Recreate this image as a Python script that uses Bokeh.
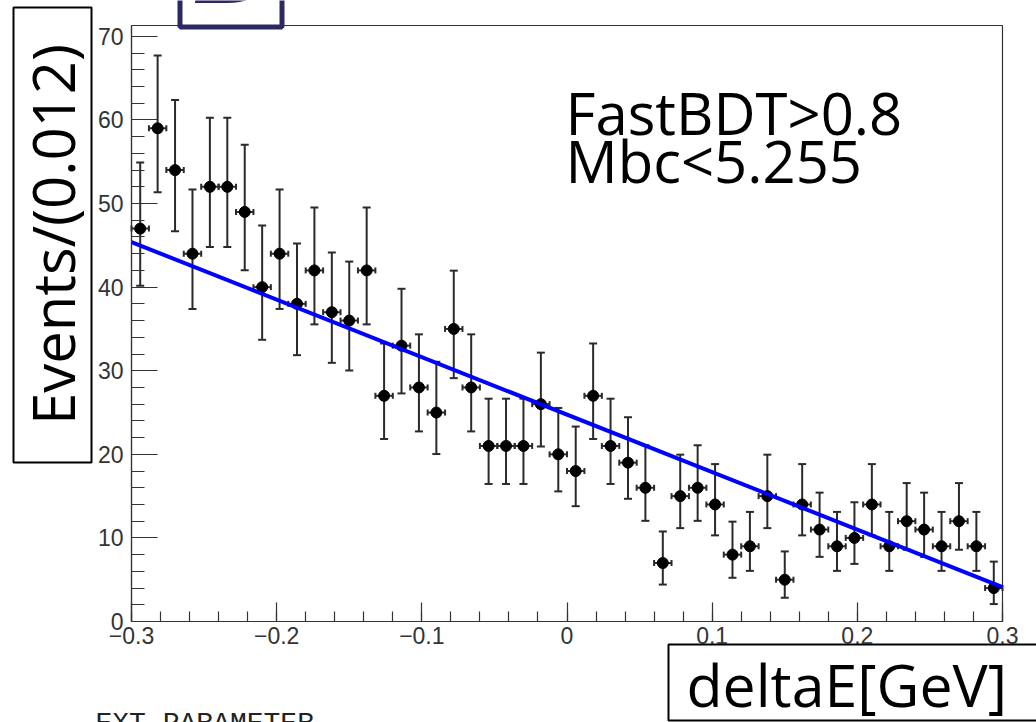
import math
from bokeh.plotting import figure
from bokeh.models import Range1d, FixedTicker, Whisker, TeeHead, Label, ColumnDataSource
from bokeh.embed import file_html
from bokeh.resources import INLINE

# ---------------- data ----------------
bin_width = 0.012
x_lo, x_hi = -0.3, 0.3
y_top = 71.3
counts = [47, 59, 54, 44, 52, 52, 49, 40, 44, 38,
          42, 37, 36, 42, 27, 33, 28, 25, 35, 28,
          21, 21, 21, 26, 20, 18, 27, 21, 19, 16,
          7, 15, 16, 14, 8, 9, 15, 5, 14, 11,
          9, 10, 14, 9, 12, 11, 9, 12, 9, 4]
fit_intercept = 24.75
fit_slope = -68.8
x_ticks = [-0.3, -0.2, -0.1, 0.0, 0.1, 0.2, 0.3]
x_tick_labels = ["\u22120.3", "\u22120.2", "\u22120.1", "0", "0.1", "0.2", "0.3"]
y_ticks = [0, 10, 20, 30, 40, 50, 60, 70]
y_tick_labels = ["0", "10", "20", "30", "40", "50", "60", "70"]
y_title = "Events/(0.012)"
x_title = "deltaE[GeV]"
cut_lines = ["FastBDT>0.8", "Mbc<5.255"]
footer = "EXT PARAMETER"

# ---------------- Poisson (Garwood) intervals, as RooFit draws them ----------------
ALPHA = 0.158655

def pois_cdf(n, lam):
    if n < 0:
        return 0.0
    s = 0.0
    for k in range(n + 1):
        s += math.exp(-lam + k * math.log(lam) - math.lgamma(k + 1)) if lam > 0 else (1.0 if k == 0 else 0.0)
    return s

def bisect(f, a, b):
    for _ in range(80):
        m = 0.5 * (a + b)
        if f(m) > 0:
            b = m
        else:
            a = m
    return 0.5 * (a + b)

def garwood(n):
    top = n + 10 * math.sqrt(n + 1) + 10
    lo = 0.0 if n == 0 else bisect(lambda l: (1 - pois_cdf(n - 1, l)) - ALPHA, 1e-9, top)
    hi = bisect(lambda l: ALPHA - pois_cdf(n, l), 1e-9, top)
    return lo, hi

centers = [x_lo + bin_width * (i + 0.5) for i in range(len(counts))]
lows, highs = zip(*[garwood(n) for n in counts])
src = ColumnDataSource(dict(
    x=centers, y=counts, lo=list(lows), hi=list(highs),
    xl=[c - bin_width / 2 for c in centers], xr=[c + bin_width / 2 for c in centers]))

# ---------------- layout geometry (pixels) ----------------
W, H = 1036, 722
FL, FR, FT, FB = 131, 1002, 25, 621     # data area inside the canvas
fw, fh = FR - FL, FB - FT

def X(px):
    return x_lo + (px - FL) * (x_hi - x_lo) / fw

def Y(py):
    return (FB - py) * y_top / fh

# The frame fills the whole canvas; the axes are pinned at the data-area edges.
p = figure(width=W, height=H, x_range=Range1d(X(0), X(W)), y_range=Range1d(Y(H), Y(0)),
           output_backend="svg", toolbar_location=None,
           min_border_left=0, min_border_right=0, min_border_top=0, min_border_bottom=0)
p.title.visible = False
p.grid.visible = False
p.background_fill_color = "white"
p.border_fill_color = "white"
p.outline_line_color = None

axcol = "#333333"
xa = p.xaxis[0]
xa.fixed_location = 0
xa.bounds = (x_lo, x_hi)
xa.ticker = FixedTicker(ticks=x_ticks, minor_ticks=[round(x_lo + 0.02 * i, 3) for i in range(31)])
xa.major_label_overrides = {t: s for t, s in zip(x_ticks, x_tick_labels)}
xa.major_tick_in = 19
xa.major_tick_out = 0
xa.minor_tick_in = 10
xa.minor_tick_out = 0
xa.major_label_standoff = 5
ya = p.yaxis[0]
ya.fixed_location = x_lo
ya.bounds = (0, y_top)
ya.ticker = FixedTicker(ticks=y_ticks, minor_ticks=list(range(0, 72, 2)))
ya.major_label_overrides = {t: s for t, s in zip(y_ticks, y_tick_labels)}
ya.major_tick_in = 26
ya.major_tick_out = 0
ya.minor_tick_in = 13
ya.minor_tick_out = 0
ya.major_label_standoff = 8
for ax in (xa, ya):
    ax.axis_line_color = axcol
    ax.major_tick_line_color = axcol
    ax.minor_tick_line_color = axcol
    ax.axis_line_width = 1.2
    ax.major_tick_line_width = 1.2
    ax.minor_tick_line_width = 1.2
    ax.major_label_text_font = "Liberation Sans"
    ax.major_label_text_font_size = "23px"
    ax.major_label_text_color = "#333333"

# frame box (top and right edges of the ROOT frame)
p.quad(left=[x_lo], right=[x_hi], bottom=[0], top=[y_top], fill_color=None,
       line_color=axcol, line_width=1.2)

# error bars
ecol = "#2a2a2a"
vw = Whisker(base="x", upper="hi", lower="lo", source=src, dimension="height",
             line_color=ecol, line_width=2,
             upper_head=TeeHead(size=8, line_color=ecol, line_width=2),
             lower_head=TeeHead(size=8, line_color=ecol, line_width=2))
hw = Whisker(base="y", upper="xr", lower="xl", source=src, dimension="width",
             line_color=ecol, line_width=2,
             upper_head=TeeHead(size=6, line_color=ecol, line_width=2),
             lower_head=TeeHead(size=6, line_color=ecol, line_width=2))
p.add_layout(vw)
p.add_layout(hw)
p.scatter("x", "y", source=src, marker="circle", size=11, color="black")

# fit
fx = [x_lo, x_hi]
fy = [fit_intercept + fit_slope * v for v in fx]
p.line(fx, fy, line_color="#0000ff", line_width=4)

# ---------------- annotation boxes ----------------
p.quad(left=[X(13)], right=[X(91)], top=[Y(7)], bottom=[Y(462)], fill_color=None,
       line_color="black", line_width=2)
p.quad(left=[X(668)], right=[X(1045)], top=[Y(644)], bottom=[Y(720)], fill_color=None,
       line_color="black", line_width=2)
navy = "#2c2962"
p.quad(left=[X(179.5)], right=[X(281.5)], top=[Y(-20)], bottom=[Y(26.5)], fill_color=None,
       line_color=navy, line_width=5)

# ---------------- texts ----------------
txt_font = "Open Sans"
p.add_layout(Label(x=X(565), y=Y(112.4), text=cut_lines[0], text_font=txt_font,
                   text_font_size="58px", text_color="black", text_baseline="alphabetic"))
p.add_layout(Label(x=X(565), y=Y(160.4), text=cut_lines[1], text_font=txt_font,
                   text_font_size="58px", text_color="black", text_baseline="alphabetic"))

p.add_layout(Label(x=X(686), y=Y(683), text=x_title, text_font=txt_font,
                   text_font_size="59px", text_color="black", text_baseline="alphabetic"))

p.add_layout(Label(x=X(52), y=Y(234), text=y_title, text_font=txt_font, angle=math.pi / 2,
                   text_font_size="58px", text_color="black", text_align="center",
                   text_baseline="middle"))

p.add_layout(Label(x=X(230), y=Y(-26), text="B", text_font="DejaVu Serif", text_font_style="bold italic",
                   text_font_size="80px", text_color=navy, text_align="center",
                   text_baseline="alphabetic"))

p.add_layout(Label(x=X(95), y=Y(723), text=footer, text_font="Liberation Mono",
                   text_font_size="28px", text_color="#222222", text_baseline="alphabetic"))

open("out.html", "w").write(file_html(p, INLINE))
